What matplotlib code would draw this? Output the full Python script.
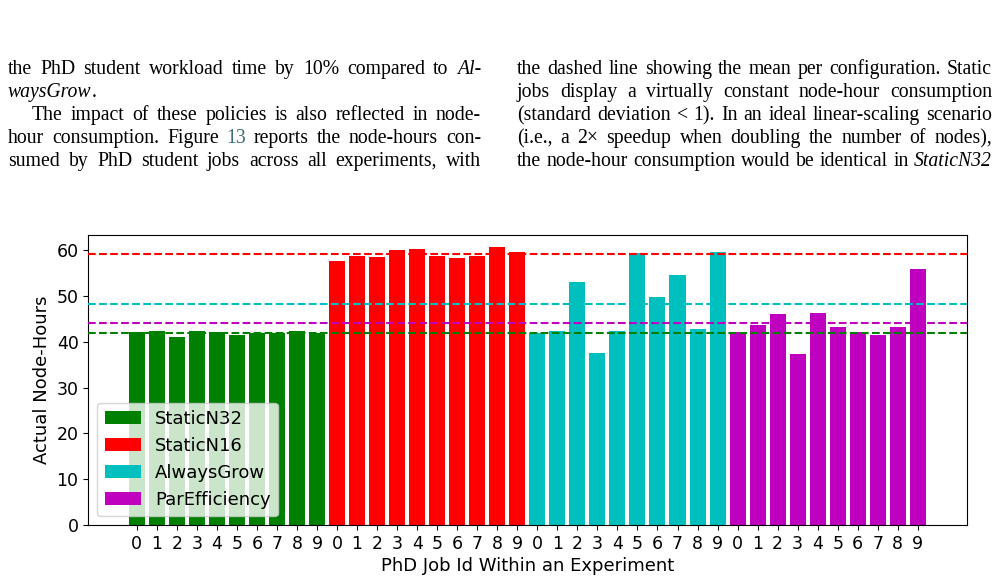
"""
Node-hours per PhD job across experiments, shown as a page excerpt:
two justified text columns on top, bar chart below.
Output: out.png (999 x 582)
"""
import matplotlib
matplotlib.use('Agg')
import matplotlib.pyplot as plt
import numpy as np

W_PX, H_PX = 999, 582

# ── Data ──────────────────────────────────────────────────────────────────────
CONFIGS = ['StaticN32', 'StaticN16', 'AlwaysGrow', 'ParEfficiency']
COLORS  = ['g', 'r', 'c', 'm']
JOB_IDS = list(range(10))

static_n32  = [42.1, 42.3, 40.9, 42.3, 42.0, 41.4, 41.9, 41.9, 42.3, 41.9]
static_n16  = [57.5, 58.6, 58.4, 60.0, 60.2, 58.6, 58.2, 58.6, 60.5, 59.4]
always_grow = [41.9, 42.4, 52.9, 37.6, 42.4, 59.2, 49.6, 54.6, 42.7, 59.6]
par_eff     = [42.0, 43.6, 45.9, 37.2, 46.2, 43.2, 42.1, 41.4, 43.2, 55.7]
SERIES = [static_n32, static_n16, always_grow, par_eff]

# ── Page text (words; each word is a list of (text, style, color) pieces) ────
LINK = '#3b6f73'


def w(s, style='normal', color='black'):
    return [(s, style, color)]


def plain(line):
    return [w(t) for t in line.split()]


LEFT_LINES = [
    (plain('the PhD student workload time by 10% compared to') + [w('Al-', 'italic')], True, 0),
    ([[('waysGrow', 'italic', 'black'), ('.', 'normal', 'black')]], False, 0),
    (plain('The impact of these policies is also reflected in node-'), True, 24),
    (plain('hour consumption. Figure') + [w('13', color=LINK)] +
     plain('reports the node-hours con-'), True, 0),
    (plain('sumed by PhD student jobs across all experiments, with'), True, 0),
]
RIGHT_LINES = [
    (plain('the dashed line showing the mean per configuration. Static'), True, 0),
    (plain('jobs display a virtually constant node-hour consumption'), True, 0),
    (plain('(standard deviation < 1). In an ideal linear-scaling scenario'), True, 0),
    (plain('(i.e., a 2\u00d7 speedup when doubling the number of nodes),'), True, 0),
    (plain('the node-hour consumption would be identical in') + [w('StaticN32', 'italic')], True, 0),
]
BASELINES = [74, 97, 120, 143, 166]
COLS = [(8, 481, LEFT_LINES), (517, 992, RIGHT_LINES)]
TXT_FS = 14.2
TXT_FONT = 'Liberation Serif'

fig = plt.figure(figsize=(W_PX / 100, H_PX / 100), dpi=100)
renderer = fig.canvas.get_renderer()


def piece_width(s, style):
    t = fig.text(0, 0, s, fontsize=TXT_FS, family=TXT_FONT, style=style)
    wd = t.get_window_extent(renderer).width
    t.remove()
    return wd


space_w = piece_width('a a', 'normal') - 2 * piece_width('a', 'normal')

for x0, x1, lines in COLS:
    for (words, justify, indent), yb in zip(lines, BASELINES):
        widths = [[piece_width(s, st) for s, st, _ in word] for word in words]
        total = sum(sum(ws) for ws in widths)
        start = x0 + indent
        if justify and len(words) > 1:
            gap = (x1 - start - total) / (len(words) - 1)
        else:
            gap = space_w
        x = start
        for word, ws in zip(words, widths):
            for (s, st, col), pw in zip(word, ws):
                fig.text(x / W_PX, 1 - yb / H_PX, s, fontsize=TXT_FS,
                         family=TXT_FONT, style=st, color=col,
                         ha='left', va='baseline')
                x += pw
            x += gap

# ── Chart ─────────────────────────────────────────────────────────────────────
AX_L, AX_R, AX_T, AX_B = 88.3, 966.7, 234.7, 525.3
ax = fig.add_axes([AX_L / W_PX, 1 - AX_B / H_PX,
                   (AX_R - AX_L) / W_PX, (AX_B - AX_T) / H_PX])

pos = 0
for name, color, vals in zip(CONFIGS, COLORS, SERIES):
    x = np.arange(pos, pos + len(vals))
    ax.bar(x, vals, width=0.8, color=color, label=name, zorder=2)
    pos += len(vals)

# mean per configuration
for color, vals in zip(COLORS, SERIES):
    ax.axhline(np.mean(vals), color=color, linestyle='--', linewidth=1.5, zorder=3)

ax.set_xticks(np.arange(pos))
ax.set_xticklabels([str(j) for j in JOB_IDS * len(CONFIGS)])
ax.set_xlim(-2.42, 41.44)
ax.set_ylim(0, 63.27)
ax.set_yticks(range(0, 61, 10))
ax.tick_params(labelsize=12.5)
ax.set_xlabel('PhD Job Id Within an Experiment', fontsize=13, labelpad=3)
ax.set_ylabel('Actual Node-Hours', fontsize=13)
ax.legend(loc='lower left', fontsize=13)

fig.savefig('out.png', dpi=100)
